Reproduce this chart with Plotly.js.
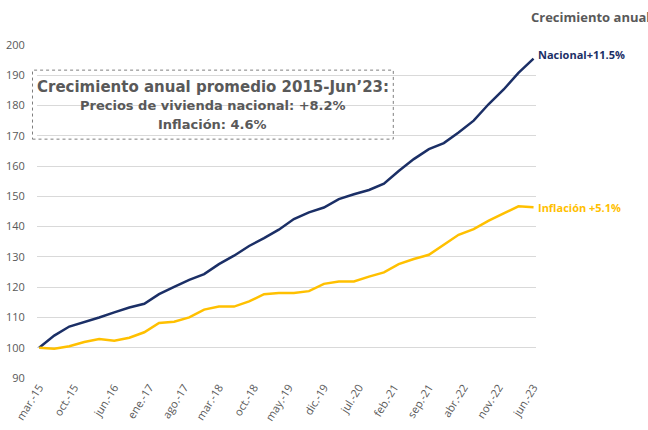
<!DOCTYPE html>
<html>
<head>
<meta charset="utf-8">
<script src="https://cdn.plot.ly/plotly-3.0.1.min.js"></script>
<style>html,body{margin:0;padding:0;background:#fff;}#chart{width:648px;height:430px;}</style>
</head>
<body>
<div id="chart"></div>
<script>
// Quarterly dates Mar-2015 .. Jun-2023
const dates = [
 "2015-03-01","2015-06-01","2015-09-01","2015-12-01",
 "2016-03-01","2016-06-01","2016-09-01","2016-12-01",
 "2017-03-01","2017-06-01","2017-09-01","2017-12-01",
 "2018-03-01","2018-06-01","2018-09-01","2018-12-01",
 "2019-03-01","2019-06-01","2019-09-01","2019-12-01",
 "2020-03-01","2020-06-01","2020-09-01","2020-12-01",
 "2021-03-01","2021-06-01","2021-09-01","2021-12-01",
 "2022-03-01","2022-06-01","2022-09-01","2022-12-01",
 "2023-03-01","2023-06-01"
];
const nacional = [100, 104, 107, 108.4, 110, 111.7, 113.3, 114.5, 117.7, 120.1, 122.4, 124.3,
  127.6, 130.4, 133.6, 136.2, 139, 142.5, 144.7, 146.3, 149.1, 150.7, 152.1, 154.2,
  158.4, 162.3, 165.6, 167.6, 171.1, 175, 180.5, 185.3, 190.8, 195.5];
const inflacion = [100, 99.7, 100.5, 101.9, 102.9, 102.3, 103.3, 105.1, 108.2, 108.6, 110, 112.6,
  113.6, 113.6, 115.3, 117.7, 118.1, 118.1, 118.7, 121.1, 121.9, 121.9, 123.5, 124.9,
  127.6, 129.3, 130.7, 134, 137.3, 139.2, 142, 144.4, 146.7, 146.4];
const tickDates = ["2015-03-01","2015-10-01","2016-06-01","2017-01-01","2017-08-01","2018-03-01",
  "2018-10-01","2019-05-01","2019-12-01","2020-07-01","2021-02-01","2021-09-01","2022-04-01",
  "2022-11-01","2023-06-01"];
const tickLabels = ["mar.-15","oct.-15","jun.-16","ene.-17","ago.-17","mar.-18","oct.-18","may.-19",
  "dic.-19","jul.-20","feb.-21","sep.-21","abr.-22","nov.-22","jun.-23"];
const yTicks = [90,100,110,120,130,140,150,160,170,180,190,200];

const navy = "#1B2F66", gold = "#FFC000", grey = "#595959";

const traces = [
  {x: dates, y: nacional, type: "scatter", mode: "lines", line: {color: navy, width: 2.5}, name: "Nacional"},
  {x: dates, y: inflacion, type: "scatter", mode: "lines", line: {color: gold, width: 2.5}, name: "Inflación"}
];

const layout = {
  width: 648, height: 430,
  margin: {l: 37, r: 112, t: 45, b: 52},
  paper_bgcolor: "#fff", plot_bgcolor: "#fff",
  showlegend: false,
  font: {family: "Open Sans, sans-serif", color: grey},
  xaxis: {
    type: "date", range: ["2015-02-16", "2023-06-16"],
    tickvals: tickDates, ticktext: tickLabels, tickangle: -58,
    showgrid: false, zeroline: false, showline: false, ticks: "",
    tickfont: {family: "Open Sans, sans-serif", size: 11, color: grey}
  },
  yaxis: {
    range: [90, 200], tickvals: yTicks, showgrid: true, gridcolor: "#D9D9D9", gridwidth: 1,
    zeroline: false, showline: false, ticks: "outside", ticklen: 9, tickcolor: "rgba(0,0,0,0)",
    tickfont: {family: "Open Sans, sans-serif", size: 11, color: grey}
  },
  shapes: [
    {type: "rect", xref: "paper", yref: "y", x0: -0.009, x1: 0.714, y0: 168.9, y1: 191.7,
     line: {color: "#7F7F7F", width: 1, dash: "dot"}, fillcolor: "rgba(255,255,255,0)"}
  ],
  annotations: [
    {xref: "paper", yref: "y", x: 0.3525, y: 186.2, text: "<b>Crecimiento anual promedio 2015-Jun’23:</b>",
     showarrow: false, font: {family: "DejaVu Sans, sans-serif", size: 15, color: grey}},
    {xref: "paper", yref: "y", x: 0.3525, y: 180.0, text: "<b>Precios de vivienda nacional: +8.2%</b>",
     showarrow: false, font: {family: "DejaVu Sans, sans-serif", size: 13, color: grey}},
    {xref: "paper", yref: "y", x: 0.3525, y: 173.7, text: "<b>Inflación: 4.6%</b>",
     showarrow: false, font: {family: "DejaVu Sans, sans-serif", size: 13, color: grey}},
    {xref: "x", yref: "y", x: dates[dates.length-1], y: nacional[nacional.length-1] + 1.2,
     text: "<b>Nacional+11.5%</b>", showarrow: false, xanchor: "left", xshift: 2,
     font: {family: "Open Sans, sans-serif", size: 11, color: navy}},
    {xref: "x", yref: "y", x: dates[dates.length-1], y: inflacion[inflacion.length-1],
     text: "<b>Inflación +5.1%</b>", showarrow: false, xanchor: "left", xshift: 2,
     font: {family: "Open Sans, sans-serif", size: 11, color: gold}},
    {xref: "paper", yref: "paper", x: 0.985, y: 1.084, yanchor: "middle", text: "<b>Crecimiento anual</b>",
     showarrow: false, xanchor: "left", font: {family: "Open Sans, sans-serif", size: 13, color: grey}}
  ]
};

Plotly.newPlot("chart", traces, layout, {displayModeBar: false, staticPlot: true});
</script>
</body>
</html>
